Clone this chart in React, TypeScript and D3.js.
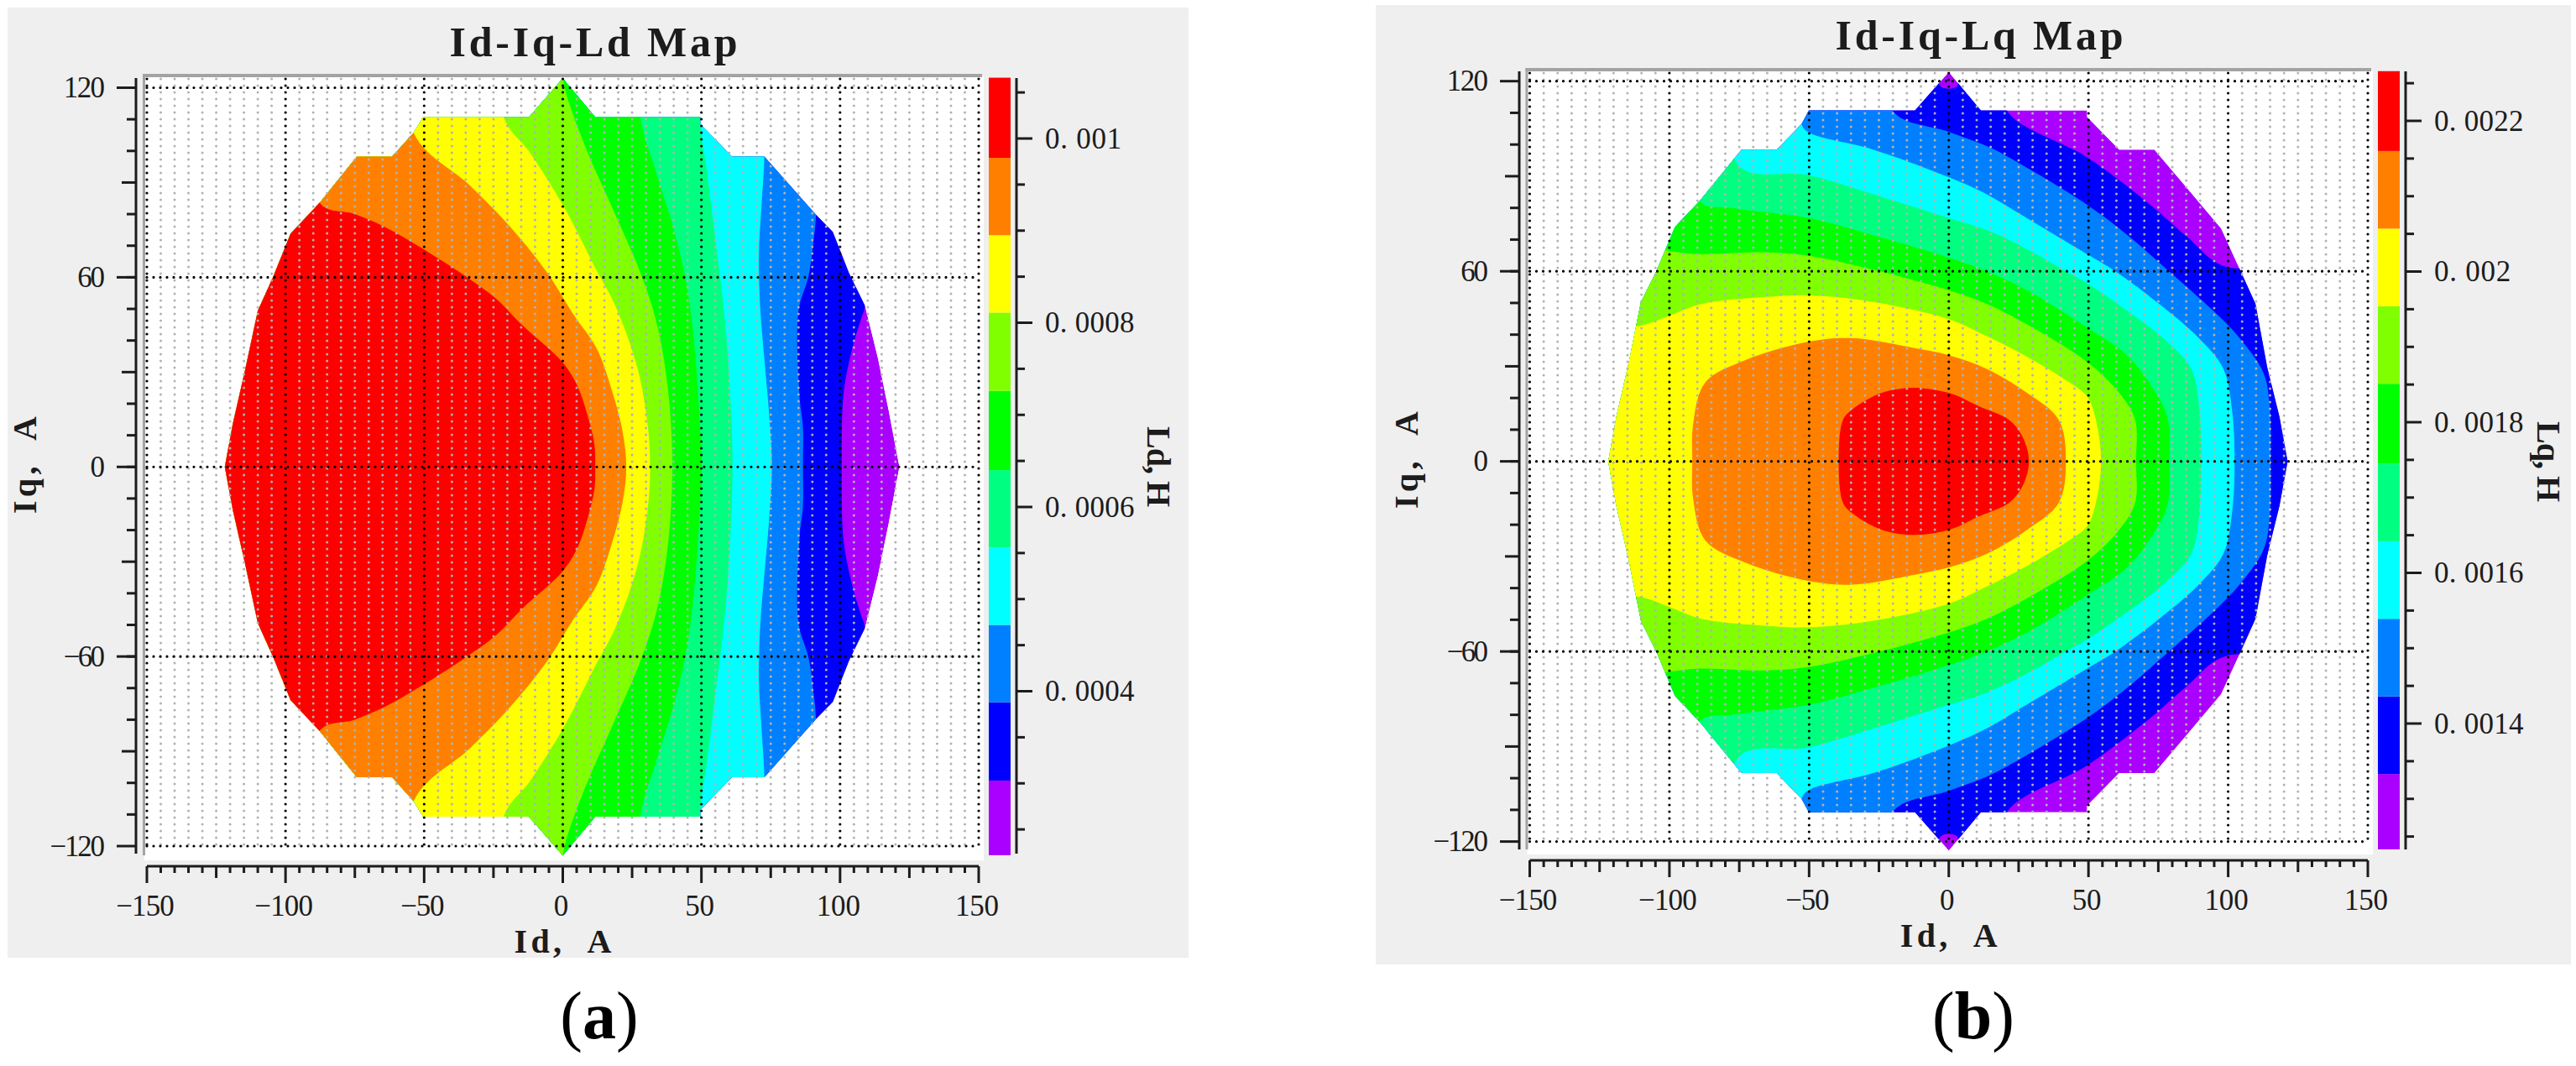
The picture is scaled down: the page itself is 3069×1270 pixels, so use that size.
import * as d3 from "d3";

type Pt = [number, number];

const WIDTH = 3069;
const HEIGHT = 1270;

// band colours, lowest level first
const BAND_COLORS = ["#aa00ff", "#0000ff", "#0080ff", "#00ffff", "#00ff80", "#00ff00", "#80ff00", "#ffff00", "#ff8000", "#ff0000"];

const ID_MAJOR = [-150, -100, -50, 0, 50, 100, 150];
const ID_MID = [-125, -75, -25, 25, 75, 125];
const ID_MINOR = d3.range(-150, 151, 5);
const IQ_MAJOR = [-120, -60, 0, 60, 120];
const IQ_MID = [-90, -30, 30, 90];
const IQ_MINOR = d3.range(-110, 111, 10);

// colour bar edges (H)
const LD_LEVELS = [0.000222, 0.000303, 0.000388, 0.000472, 0.000556, 0.00064, 0.000726, 0.000811, 0.000895, 0.000979, 0.001066];
const LD_MAJOR = [0.0004, 0.0006, 0.0008, 0.001];
const LD_MINOR = [0.00025, 0.0003, 0.00035, 0.00045, 0.0005, 0.00055, 0.00065, 0.0007, 0.00075, 0.00085, 0.0009, 0.00095, 0.00105];
const LQ_LEVELS = [0.001233, 0.001333, 0.001436, 0.001539, 0.001642, 0.001745, 0.001851, 0.001954, 0.002057, 0.00216, 0.002266];
const LQ_MAJOR = [0.0014, 0.0016, 0.0018, 0.002, 0.0022];
const LQ_MINOR = [0.00125, 0.0013, 0.00135, 0.00145, 0.0015, 0.00155, 0.00165, 0.0017, 0.00175, 0.00185, 0.0019, 0.00195, 0.00205, 0.0021, 0.00215, 0.00225];

// outlines and level edges are read for Iq >= 0, both maps are symmetric about Iq = 0
const OUTLINE_LD: Pt[] = [[-121.9, 0], [-119, 13.7], [-114.5, 31], [-110, 49.4], [-104.4, 60.3], [-98.2, 73.8], [-87.7, 83.6], [-74.3, 98.2], [-61.6, 98.2], [-53.8, 105.8], [-50.4, 110.7], [-12.2, 110.7], [0, 123], [11.7, 110.7], [49.6, 110.7], [49.6, 108.5], [61, 98.2], [72.7, 98.2], [91.3, 79.8], [97.4, 74.4], [103.2, 61.4], [109, 51], [113.7, 34.3], [117.5, 18], [121.4, 0]];
const OUTLINE_LQ: Pt[] = [[-121.9, 0], [-119, 14], [-114.5, 31.4], [-110.2, 50.3], [-104.6, 60.2], [-98, 74], [-89.2, 82.2], [-74.2, 98.4], [-61.6, 98.4], [-52.7, 106.5], [-50.1, 110.8], [-12.1, 110.8], [0, 122.9], [11.5, 110.8], [49.5, 110.8], [49.5, 108.7], [61, 98.4], [73.6, 98.4], [84, 87.6], [97.5, 73.5], [104, 61], [109.8, 49.7], [114, 29.7], [118.4, 14], [121.3, 0]];

const LD_BANDS: Pt[][] = [
  [[-150, 140], [109, 140], [109, 51], [107.5, 46.7], [104.4, 37.5], [101.3, 23.4], [100.6, 0]],
  [[-150, 140], [91.3, 140], [91.3, 79.8], [90.5, 72], [88.6, 60.3], [85, 49.4], [85.4, 22], [86.6, 12.6], [86.6, 0]],
  [[-150, 140], [72.7, 140], [72.7, 98.2], [71.7, 83], [70.7, 66.8], [71.2, 50.5], [72.7, 34], [74.3, 18], [75.4, 0]],
  [[-150, 140], [49.6, 140], [49.6, 108.5], [51.9, 94], [55, 72.2], [57.3, 56], [59.6, 34.3], [61.2, 0]],
  [[-150, 140], [28, 140], [28, 110.7], [33.4, 94], [40.3, 74.4], [45, 56], [47.3, 39.7], [49, 20], [50, 0]],
  [[-150, 140], [0, 140], [0, 123], [7.6, 102.5], [18, 81.7], [28, 61.4], [34, 45], [38, 24], [39.5, 0]],
  [[-150, 140], [-21.3, 140], [-21.3, 110.7], [-11.7, 99.3], [0.6, 82], [11.4, 63.5], [19.2, 50.5], [27, 31], [30.7, 12.6], [31.5, 0]],
  [[-150, 140], [-53.8, 140], [-53.8, 105.8], [-33.4, 89], [-19.5, 76.5], [-5.6, 61.4], [3.7, 48.4], [12.2, 37.5], [17.6, 24.5], [21.5, 11.5], [22.9, 0]],
  [[-150, 140], [-87.7, 140], [-87.7, 83.6], [-75, 80], [-64.3, 76], [-50.4, 69], [-35, 60.3], [-24, 53.2], [-14.8, 45], [0, 33], [5.3, 25.6], [9.1, 15.8], [11.4, 7.2], [11.7, 0]],
];
const LQ_BANDS: Pt[][] = [
  [[-150, 140], [-3, 140], [-3, 118.4], [3, 118.4], [3, 125], [20.8, 125], [20.8, 110.8], [49.5, 96], [71, 81.8], [85.4, 70.8], [99, 61.5], [150, 61.5]],
  [[-150, 140], [-20.2, 140], [-20.2, 110.8], [0, 104], [13.6, 99.5], [22.2, 95.6], [49.5, 81], [63.8, 71.5], [78.8, 60], [94.7, 47.5], [104, 39], [112.6, 28], [114.8, 18], [115.2, 0]],
  [[-150, 140], [-52.7, 140], [-52.7, 106.5], [-50.1, 103.8], [-27.1, 98.4], [0, 89.7], [13.6, 84.3], [27.9, 76.8], [49.5, 65.4], [59.6, 60], [75.3, 49.7], [89.5, 38.9], [98.3, 29.2], [101.4, 16.2], [102.3, 0]],
  [[-150, 140], [-75.4, 140], [-75.4, 93.5], [-50.1, 90.3], [-27, 84.3], [0, 76.8], [13.6, 73], [28, 67], [42.3, 59.8], [49.5, 56.2], [63.8, 47.6], [76.7, 38.9], [86.8, 29.2], [89.7, 16.2], [90.4, 0]],
  [[-150, 140], [-89.2, 140], [-89.2, 82.2], [-77.7, 80], [-50.1, 76.8], [-27, 71.4], [0, 64.3], [13.6, 60], [28, 54], [49.5, 42.2], [63.8, 33.5], [72.5, 23.8], [78.2, 14], [79, 0]],
  [[-150, 65.4], [-88.5, 65.4], [-65.8, 66], [-50.1, 64.9], [-27, 60.5], [0, 54], [13.6, 49.7], [28, 43.2], [49.5, 31.4], [61, 21.6], [66.7, 13], [67, 0]],
  [[-150, 42.7], [-111.3, 42.7], [-100, 46], [-88.5, 49.7], [-65.5, 51.9], [-50.1, 52.4], [-27, 50.3], [0, 44.9], [13.6, 39.5], [28, 33], [42.3, 25.4], [49.5, 20.5], [52.4, 14], [54.5, 0]],
  [[-91.8, 0], [-91.5, 11.9], [-87.2, 24.9], [-73, 31.9], [-50, 37.8], [-34.8, 38.9], [-11.8, 35.7], [0, 33.5], [13.6, 29.2], [28, 21.6], [39.4, 13], [41.9, 0]],
  [[-39.4, 0], [-37.9, 13], [-34.8, 16.2], [-24, 21.6], [-12, 23.2], [0, 21.6], [11, 17.3], [21.7, 13], [26.5, 7.6], [28.7, 0]],
];

const mirror = (upper: Pt[]): Pt[] => [
  ...upper,
  ...[...upper].reverse().filter((d) => d[1] !== 0).map(([d, q]): Pt => [d, -q]),
];

const DARK = "#1c1c1c";
const SERIF = "'Liberation Serif', serif";

function Txt({ x, y, s, size, width, anchor = "middle", bold = false, rotate = 0 }: any) {
  return (
    <text
      transform={`translate(${x},${y}) rotate(${rotate})`}
      fontFamily={SERIF}
      fontSize={size}
      fontWeight={bold ? "bold" : "normal"}
      fill={DARK}
      textAnchor={anchor}
      textLength={width}
      lengthAdjust="spacing"
      style={{ whiteSpace: "pre" }}
    >
      {s}
    </text>
  );
}

function Panel(p: any) {
  const x = d3.scaleLinear().domain([-150, 150]).range(p.xRange);
  const y = d3.scaleLinear().domain([-120, 120]).range(p.yRange);
  const c = d3.scaleLinear().domain(p.barDomain).range(p.barRange);
  const line = d3.line<Pt>().x((d) => x(d[0])).y((d) => y(d[1]));
  const smooth = d3.line<Pt>().x((d) => x(d[0])).y((d) => y(d[1])).curve(d3.curveCatmullRomClosed.alpha(0.5));
  const [x0, x1] = p.xRange;
  const [yBottom] = p.yRange;
  const axisY = p.axisY;
  const clipId = `outline-${p.id}`;
  const fmt = (v: number) => String(v).replace(".", ". ");
  const tick = (v: number) => String(v).replace("-", "\u2212");

  return (
    <g>
      <rect x={p.box[0]} y={p.box[1]} width={p.box[2] - p.box[0]} height={p.box[3] - p.box[1]} fill="#efefef" />
      <rect x={x0 - 3} y={p.plotTop} width={x1 - x0 + 9} height={axisY - 7 - p.plotTop} fill="#fff" />
      <rect x={x0 - 5} y={p.plotTop - 3} width={x1 - x0 + 9} height={4} fill="#a3a3a3" />
      <rect x={x0 - 5} y={p.plotTop - 3} width={3} height={axisY - 6 - p.plotTop - 4} fill="#a3a3a3" />

      <clipPath id={clipId}>
        <path d={line(mirror(p.outline)) + "Z"} />
      </clipPath>
      <g clipPath={`url(#${clipId})`}>
        <path d={line(mirror(p.outline)) + "Z"} fill={BAND_COLORS[0]} />
        {p.bands.map((b: Pt[], i: number) => (
          <path key={i} d={smooth(mirror(b)) ?? ""} fill={BAND_COLORS[i + 1]} />
        ))}
      </g>

      {ID_MINOR.filter((v) => !ID_MAJOR.includes(v)).map((v) => (
        <line key={v} x1={x(v)} x2={x(v)} y1={p.plotTop + 3} y2={yBottom + 4} stroke="#b2b2b2" strokeWidth={3} strokeLinecap="round" strokeDasharray="0 8" />
      ))}
      {ID_MAJOR.map((v) => (
        <line key={v} x1={x(v)} x2={x(v)} y1={p.plotTop + 3} y2={yBottom + 4} stroke="#000" strokeWidth={3.2} strokeLinecap="round" strokeDasharray="0 8" />
      ))}
      {IQ_MAJOR.map((v) => (
        <line key={v} x1={x0} x2={x1} y1={y(v)} y2={y(v)} stroke="#000" strokeWidth={3.2} strokeLinecap="round" strokeDasharray="0 8" />
      ))}

      {/* Iq axis */}
      <line x1={p.iqAxisX} x2={p.iqAxisX} y1={p.barEdge[0]} y2={p.barEdge[1]} stroke={DARK} strokeWidth={3} />
      {IQ_MINOR.map((v) => (
        <line key={v} x1={p.iqAxisX} x2={p.iqAxisX - (IQ_MID.includes(v) ? 17 : 11)} y1={y(v)} y2={y(v)} stroke={DARK} strokeWidth={3} />
      ))}
      {IQ_MAJOR.map((v) => (
        <g key={v}>
          <line x1={p.iqAxisX} x2={p.iqAxisX - 23} y1={y(v)} y2={y(v)} stroke={DARK} strokeWidth={3} />
          <Txt x={p.iqAxisX - 37} y={y(v) + 11.5} s={tick(v)} size={35} width={tick(v).length * 16.4} anchor="end" />
        </g>
      ))}
      <Txt x={p.iqTitleX} y={p.iqTitleY} s="Iq,  A" size={40} width={116} bold rotate={-90} />

      {/* Id axis */}
      <line x1={x0} x2={x1} y1={axisY} y2={axisY} stroke={DARK} strokeWidth={3} />
      {ID_MINOR.map((v) => (
        <line key={v} x1={x(v)} x2={x(v)} y1={axisY} y2={axisY + (ID_MAJOR.includes(v) ? 20 : ID_MID.includes(v) ? 14 : 8)} stroke={DARK} strokeWidth={3} />
      ))}
      {ID_MAJOR.map((v) => (
        <Txt key={v} x={x(v) - 2} y={axisY + 59} s={tick(v)} size={35} width={tick(v).length * 17.4} />
      ))}
      <Txt x={x(0)} y={axisY + 103} s="Id,  A" size={40} width={116} bold />

      {/* colour bar */}
      {p.levels.slice(1).map((v: number, i: number) => (
        <rect key={i} x={p.barX[0]} width={p.barX[1] - p.barX[0]} y={c(v)} height={c(p.levels[i]) - c(v)} fill={BAND_COLORS[i]} />
      ))}
      <line x1={p.barX[1] + 7} x2={p.barX[1] + 7} y1={p.barEdge[0]} y2={p.barEdge[1]} stroke={DARK} strokeWidth={3} />
      {p.minor.map((v: number) => (
        <line key={v} x1={p.barX[1] + 7} x2={p.barX[1] + 17} y1={c(v)} y2={c(v)} stroke={DARK} strokeWidth={3} />
      ))}
      {p.major.map((v: number) => (
        <g key={v}>
          <line x1={p.barX[1] + 7} x2={p.barX[1] + 26} y1={c(v)} y2={c(v)} stroke={DARK} strokeWidth={3} />
          <Txt x={p.barX[1] + 41} y={c(v) + 11.5} s={fmt(v)} size={35} width={fmt(v).length * 15.2} anchor="start" />
        </g>
      ))}
      <Txt x={p.barTitleX} y={p.barTitleY} s={p.barTitle} size={40} width={96} bold rotate={90} />

      <Txt x={p.titleX} y={p.titleY} s={p.title} size={50} width={343} bold />
      <text x={p.capX} y={1237} fontFamily={SERIF} fontSize={80} textAnchor="middle" fill="#000">
        (<tspan fontWeight="bold">{p.cap}</tspan>)
      </text>
    </g>
  );
}

export default function App() {
  return (
    <svg width={WIDTH} height={HEIGHT} style={{ position: "absolute", left: 0, top: 0, background: "#fff" }}>
      <Panel
        id="a"
        box={[9, 9, 1416, 1141]}
        xRange={[175, 1166]}
        yRange={[1008, 104.5]}
        plotTop={91}
        axisY={1032}
        iqAxisX={162}
        iqTitleX={43}
        iqTitleY={554}
        barX={[1178, 1204]}
        barEdge={[93, 1017]}
        barDomain={[0.0004, 0.001]}
        barRange={[823.5, 165]}
        levels={LD_LEVELS}
        major={LD_MAJOR}
        minor={LD_MINOR}
        barTitle="Ld, H"
        barTitleX={1367}
        barTitleY={556}
        outline={OUTLINE_LD}
        bands={LD_BANDS}
        title="Id-Iq-Ld Map"
        titleX={707}
        titleY={67}
        cap="a"
        capX={714}
      />
      <Panel
        id="b"
        box={[1639, 6, 3063, 1149]}
        xRange={[1822.5, 2821]}
        yRange={[1002.6, 96.7]}
        plotTop={84}
        axisY={1025}
        iqAxisX={1810}
        iqTitleX={1689}
        iqTitleY={548}
        barX={[2833, 2859]}
        barEdge={[85, 1012]}
        barDomain={[0.0014, 0.0022]}
        barRange={[862, 144]}
        levels={LQ_LEVELS}
        major={LQ_MAJOR}
        minor={LQ_MINOR}
        barTitle="Lq, H"
        barTitleX={3023}
        barTitleY={550}
        outline={OUTLINE_LQ}
        bands={LQ_BANDS}
        title="Id-Iq-Lq Map"
        titleX={2358}
        titleY={59}
        cap="b"
        capX={2351}
      />
    </svg>
  );
}
